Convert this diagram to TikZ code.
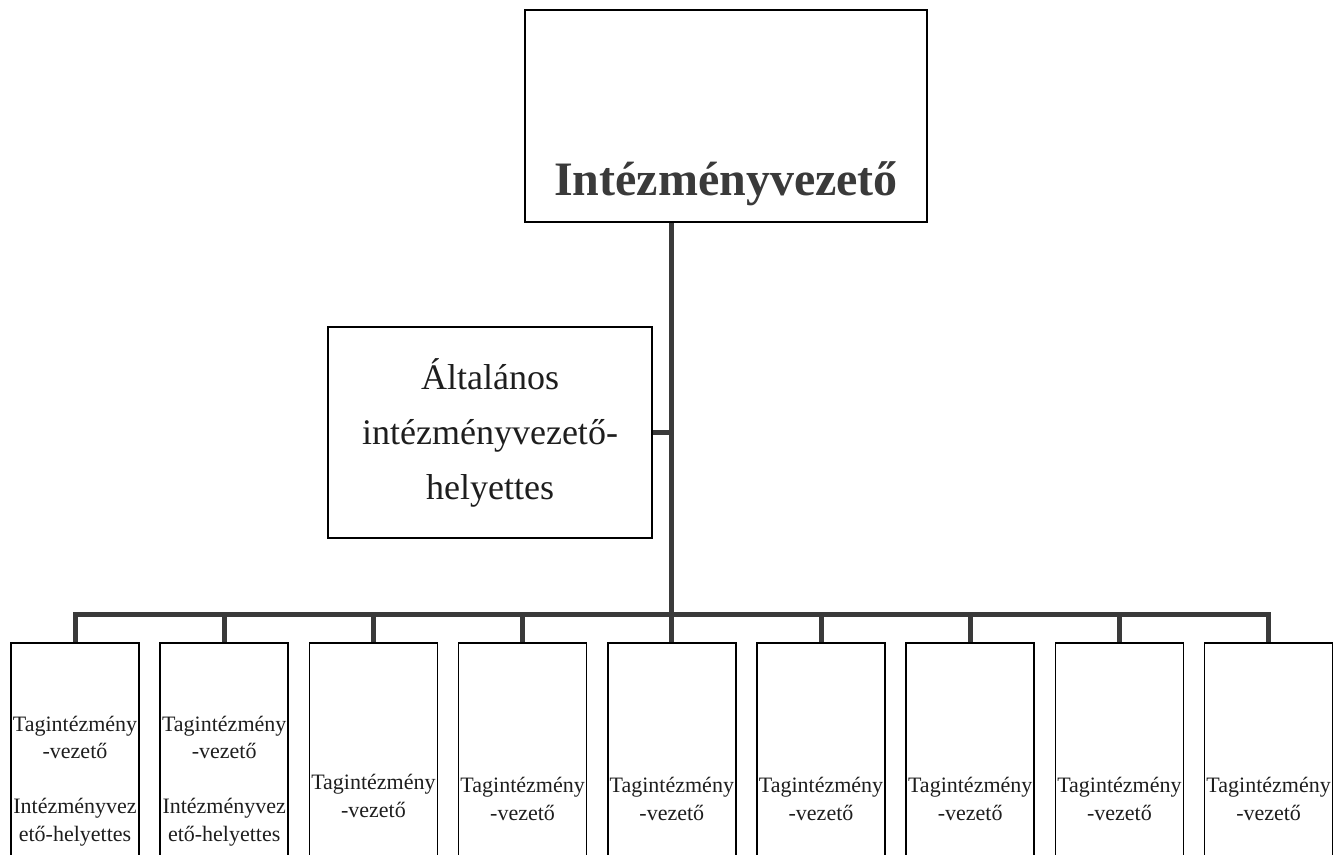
\documentclass[tikz,border=0pt]{standalone}
\usepackage{fontspec}
\setmainfont{Liberation Serif}
\definecolor{conn}{HTML}{3A3A3A}
\definecolor{ink}{HTML}{1E1E1E}
\begin{document}
\begin{tikzpicture}[x=1pt,y=-1pt,
  box/.style={draw=black,line width=1.5pt,fill=white,inner sep=0pt},
  leaf/.style={box,minimum width=128pt,minimum height=260pt,anchor=north},
  conn/.style={draw=conn,line width=5pt,line join=miter},
  leaftxt/.style={text=ink,align=center,inner sep=0pt,font=\fontsize{22}{27.5}\selectfont}]
\useasboundingbox (0,0) rectangle (1343,854);
\clip (0,0) rectangle (1343,854);
\fill[white] (0,0) rectangle (1343,854);
% leaves
\foreach \i in {1,...,9}
  \node[leaf] (b\i) at ({75+149.2*(\i-1)},642) {};
% top box
\node[box,minimum width=402pt,minimum height=212pt] (top) at (726,116) {};
\node[anchor=base,inner sep=0pt,text=conn,font=\fontsize{48}{56}\selectfont\bfseries] (toptxt) at (726,195) {Intézményvezető};
% middle box
\node[box,minimum width=324pt,minimum height=211pt,align=center,text=ink,font=\fontsize{36}{55}\selectfont] (mid) at (490,432.5) {Általános\\intézményvezető-\\helyettes};
% connectors
\draw[conn] (top.south -| b5.north) -- (b5.north);
\draw[conn] (mid.east) -- (mid.east -| b5.north);
\draw[conn] (b1.north) |- (b9.north |- 0,614) -- (b9.north);
\foreach \i in {2,...,8}
  \draw[conn] (b\i.north) -- (b\i.north |- 0,614);
% leaf texts
\node[leaftxt] (t1) at (b1.north |- 0,781) {Tagintézmény\\-vezető\\[27.5pt]Intézményvez\\ető-helyettes};
\node[leaftxt] (t2) at (b2.north |- 0,781) {Tagintézmény\\-vezető\\[27.5pt]Intézményvez\\ető-helyettes};
\node[leaftxt] (t3) at (b3.north |- 0,796) {Tagintézmény\\-vezető};
\foreach \i in {4,...,9}
  \node[leaftxt] (t\i) at (b\i.north |- 0,799) {Tagintézmény\\-vezető};
\end{tikzpicture}
\end{document}
